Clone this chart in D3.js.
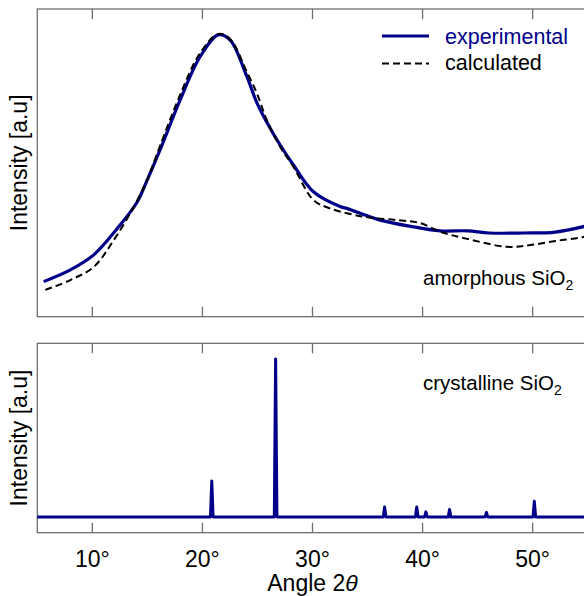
<!DOCTYPE html>
<html>
<head>
<meta charset="utf-8">
<script src="https://cdn.jsdelivr.net/npm/d3@7"></script>
<style>
  body { margin: 0; background: white; }
  text { font-family: "Liberation Sans", Arial, sans-serif; }
</style>
</head>
<body>
<svg id="chart" width="584" height="596"></svg>
<script>
// amorphous SiO2, experimental curve (angle 2θ, intensity)
const expAngle = [5.58, 8.0, 10.13, 12.25, 14.06, 14.97, 16.15, 17.97, 19.79, 21.45, 22.52, 24.04, 24.95, 25.85, 27.06, 28.27, 30.09, 32.5, 33.1, 36.15, 39.18, 41.6, 44.06, 46.06, 49.15, 52.06, 55.0];
const expValue = [11.4, 15.2, 20.1, 28.6, 37.2, 44.3, 54.2, 70.4, 84.5, 91.6, 89.9, 78.0, 69.5, 63.2, 55.8, 49.3, 40.6, 35.8, 35.2, 31.4, 29.2, 27.9, 27.9, 27.2, 27.2, 27.5, 29.6];

// amorphous SiO2, calculated curve
const calcAngle = [5.73, 8.0, 10.13, 11.95, 13.76, 14.97, 16.15, 17.97, 19.79, 21.45, 22.52, 24.04, 24.95, 25.85, 27.06, 28.27, 30.09, 31.6, 34.64, 37.67, 39.79, 41.6, 44.06, 47.67, 49.8, 52.06, 54.3, 55.0];
const calcValue = [8.7, 11.9, 16.2, 24.9, 35.7, 44.4, 55.5, 72.1, 85.7, 91.9, 90.2, 79.5, 72.6, 63.9, 55.2, 48.7, 37.9, 35.2, 32.5, 31.4, 30.4, 27.6, 25.3, 22.7, 23.3, 24.6, 25.7, 26.2];

// crystalline SiO2 reflections (angle 2θ, relative height)
const peakAngle = [20.85, 26.65, 36.55, 39.47, 40.3, 42.45, 45.8, 50.15];
const peakHeight = [0.227, 1.0, 0.063, 0.063, 0.032, 0.047, 0.028, 0.099];

const xTicks = [10, 20, 30, 40, 50];

const navy = "#00008a";
const frame = "#6e6e6e";

const svg = d3.select("#chart");

const x = d3.scaleLinear().domain([5, 55]).range([37.3, 587.7]);
const yTop = d3.scaleLinear().domain([0, 100]).range([316.7, 9]);
const yBot = d3.scaleLinear().domain([-0.1, 1.1]).range([532.7, 343.3]);

function panel(y) {
  const [y1, y0] = y.range();
  const g = svg.append("g");
  g.append("rect")
    .attr("x", x.range()[0])
    .attr("y", y0)
    .attr("width", x.range()[1] - x.range()[0])
    .attr("height", y1 - y0)
    .attr("fill", "none")
    .attr("stroke", frame)
    .attr("stroke-width", 1.3);

  // inward ticks on top and bottom
  g.selectAll(".tb")
    .data(xTicks)
    .join("line")
    .attr("x1", (d) => x(d))
    .attr("x2", (d) => x(d))
    .attr("y1", y1)
    .attr("y2", y1 - 10)
    .attr("stroke", frame)
    .attr("stroke-width", 1.3);
  g.selectAll(".tt")
    .data(xTicks)
    .join("line")
    .attr("x1", (d) => x(d))
    .attr("x2", (d) => x(d))
    .attr("y1", y0)
    .attr("y2", y0 + 10)
    .attr("stroke", frame)
    .attr("stroke-width", 1.3);

  // y label
  g.append("text")
    .attr("transform", `translate(27,${(y0 + y1) / 2}) rotate(-90)`)
    .attr("text-anchor", "middle")
    .attr("font-size", 23)
    .text("Intensity [a.u]");
  return g;
}

const topG = panel(yTop);
const botG = panel(yBot);

// Top curves
const lineTop = d3.line()
  .x((d) => x(d[0]))
  .y((d) => yTop(d[1]))
  .curve(d3.curveCatmullRom.alpha(0.5));

topG.append("path")
  .datum(expAngle.map((a, i) => [a, expValue[i]]))
  .attr("d", lineTop)
  .attr("fill", "none")
  .attr("stroke", navy)
  .attr("stroke-width", 3.2);

topG.append("path")
  .datum(calcAngle.map((a, i) => [a, calcValue[i]]))
  .attr("d", lineTop)
  .attr("fill", "none")
  .attr("stroke", "black")
  .attr("stroke-width", 2)
  .attr("stroke-dasharray", "7,4");

// Legend
topG.append("line")
  .attr("x1", 382).attr("x2", 429)
  .attr("y1", 36).attr("y2", 36)
  .attr("stroke", navy).attr("stroke-width", 3.2);
topG.append("text")
  .attr("x", 445).attr("y", 43.5)
  .attr("font-size", 21.5)
  .attr("fill", navy)
  .text("experimental");
topG.append("line")
  .attr("x1", 382).attr("x2", 429)
  .attr("y1", 63.5).attr("y2", 63.5)
  .attr("stroke", "black").attr("stroke-width", 2)
  .attr("stroke-dasharray", "7,4");
topG.append("text")
  .attr("x", 445).attr("y", 70)
  .attr("font-size", 21.5)
  .text("calculated");

function label(g, xPos, yPos, name) {
  const t = g.append("text")
    .attr("x", xPos).attr("y", yPos)
    .attr("font-size", 20.5);
  t.append("tspan").text(name + " SiO");
  t.append("tspan").attr("font-size", 14).attr("dy", 5).text("2");
}
label(topG, 423, 285, "amorphous");
label(botG, 423, 390, "crystalline");

// Bottom: crystalline pattern
const pts = [[5, 0]];
peakAngle.forEach((p, i) => {
  pts.push([p - 0.12, 0], [p, peakHeight[i]], [p + 0.12, 0]);
});
pts.push([55, 0]);

botG.append("path")
  .datum(pts)
  .attr("d", d3.line().x((d) => x(d[0])).y((d) => yBot(d[1])))
  .attr("fill", "none")
  .attr("stroke", navy)
  .attr("stroke-width", 3)
  .attr("stroke-linejoin", "round");

// x tick labels
svg.selectAll(".xl")
  .data(xTicks)
  .join("text")
  .attr("x", (d) => x(d))
  .attr("y", 566.5)
  .attr("text-anchor", "middle")
  .attr("font-size", 23)
  .text((d) => d + "°");

const xt = svg.append("text")
  .attr("x", x(30))
  .attr("y", 590.5)
  .attr("text-anchor", "middle")
  .attr("font-size", 23);
xt.append("tspan").text("Angle 2");
xt.append("tspan").attr("font-style", "italic").text("θ");
</script>
</body>
</html>
